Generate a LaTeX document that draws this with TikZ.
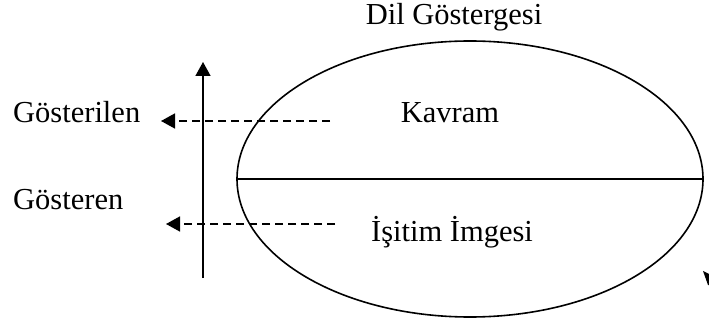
\documentclass[tikz,border=0pt]{standalone}
\usepackage{fontspec}
\setmainfont{Liberation Serif}
\usepackage{tikz}
\usetikzlibrary{arrows.meta,positioning,shapes.geometric}
\tikzset{
  lbl/.style={font=\fontsize{30.5}{36}\selectfont, inner sep=0pt},
  axisarr/.style={-{Triangle[length=14pt,width=15pt]}, line width=1.6pt},
  refarr/.style={-{Triangle[length=14pt,width=15pt]}, line width=1.6pt, dash pattern=on 8pt off 5pt},
  signline/.style={line width=1.6pt}
}
\begin{document}
\begin{tikzpicture}[x=1pt, y=-1pt]
\useasboundingbox (0,0) rectangle (709,320);
% the sign: ellipse split in two
\node[signline, draw, ellipse, minimum width=466pt, minimum height=276pt, inner sep=0pt] (sign) at (470,179) {};
\draw[signline] (sign.west) -- (sign.east);
% labels
\node[lbl, anchor=base] (title) at (454,25) {Dil Göstergesi};
\node[lbl, anchor=base] (kavram) at (450,123) {Kavram};
\node[lbl, anchor=base] (imge) at (452,242) {İşitim İmgesi};
\node[lbl, anchor=base west] (gosterilen) at (13,123) {Gösterilen};
\node[lbl, anchor=base west] (gosteren) at (13,210) {Gösteren};
% axis and dashed arrows
\coordinate (axbot) at (203,278);
\coordinate (axtop) at (203,62);
\draw[axisarr] (axbot) -- (axtop);
\coordinate (ustA) at (330,121);
\coordinate (ustB) at (161,121);
\coordinate (altA) at (335,224);
\coordinate (altB) at (166,224);
\draw[refarr] (ustA) -- (ustB);
\draw[refarr] (altA) -- (altB);
% cut-off tip at the right edge
\fill (703,271) -- (709,274) -- (709,285) -- (708,285) -- cycle;
\end{tikzpicture}
\end{document}
